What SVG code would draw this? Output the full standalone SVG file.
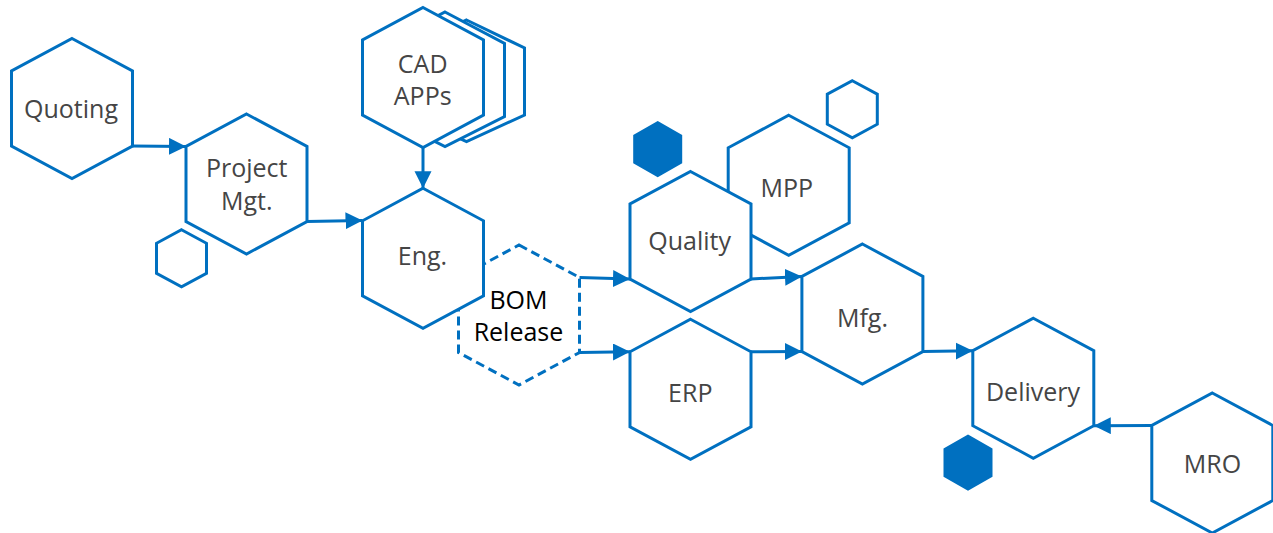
<svg xmlns="http://www.w3.org/2000/svg" xmlns:xlink="http://www.w3.org/1999/xlink" width="1273" height="533" viewBox="0 0 1273 533">
<style>
.hex{fill:#ffffff;stroke:#0070C0;stroke-width:3;stroke-linejoin:miter}
.dash{fill:#ffffff;stroke:#0070C0;stroke-width:3;stroke-dasharray:9 5}
.sm{fill:none;stroke:#0070C0;stroke-width:3}
.smf{fill:#0070C0;stroke:#0070C0;stroke-width:2}
.lbl{font-family:"Open Sans","Noto Sans","DejaVu Sans",sans-serif;font-size:25px;font-weight:400;fill:#454545;text-anchor:middle}
.blk{fill:#000000}
.conn{fill:none;stroke:#0070C0;stroke-width:3}
</style>
<defs>
<polygon id="hx" points="0,-70 60.5,-37.5 60.5,37.5 0,70 -60.5,37.5 -60.5,-37.5"/>
<polygon id="sx" points="0,-28.5 25,-15 25,15 0,28.5 -25,15 -25,-15"/>
<polygon id="sxf" points="0,-27 23.5,-13.5 23.5,13.5 0,27 -23.5,13.5 -23.5,-13.5"/>
<marker id="ah" markerUnits="userSpaceOnUse" markerWidth="18" markerHeight="18" refX="17" refY="8.5" orient="auto">
<path d="M0,0 L17,8.5 L0,17 Z" fill="#0070C0"/>
</marker>
</defs>

<g id="deco">
<use xlink:href="#sx" class="sm" x="181.5" y="258.3"/>
<use xlink:href="#sxf" class="smf" x="657.7" y="149.2"/>
<use xlink:href="#sx" class="sm" x="852.3" y="109.2"/>
<use xlink:href="#sxf" class="smf" x="968" y="462.7"/>
</g>

<g id="quoting">
<use xlink:href="#hx" class="hex" x="72" y="108.5"/>
<text class="lbl" x="71" y="118.3">Quoting</text>
</g>

<g id="project-mgt">
<use xlink:href="#hx" class="hex" x="246.5" y="184"/>
<text class="lbl" x="246.7" y="177.3">Project</text>
<text class="lbl" x="246.7" y="210">Mgt.</text>
</g>

<g id="cad-apps">
<polygon class="hex" points="466.5,20 524.5,48 524.5,115 466.5,141.5 408.5,115 408.5,48"/>
<polygon class="hex" points="445,12 504.5,43.5 504.5,116.5 445,146.5 385.5,116.5 385.5,43.5"/>
<use xlink:href="#hx" class="hex" x="423" y="77.5"/>
<text class="lbl" x="422.7" y="73.3">CAD</text>
<text class="lbl" x="422.7" y="105">APPs</text>
</g>

<g id="bom-release">
<use xlink:href="#hx" class="dash" x="519" y="315"/>
</g>

<g id="eng">
<use xlink:href="#hx" class="hex" x="423" y="258.3"/>
<text class="lbl" x="422.5" y="265">Eng.</text>
</g>

<g id="bom-release-label">
<text class="lbl blk" x="518.5" y="309">BOM</text>
<text class="lbl blk" x="518.5" y="340.7">Release</text>
</g>

<g id="mpp">
<use xlink:href="#hx" class="hex" x="788.7" y="185.3"/>
<text class="lbl" x="786.7" y="197.3">MPP</text>
</g>

<g id="quality">
<use xlink:href="#hx" class="hex" x="690.5" y="241.5"/>
<text class="lbl" x="689.7" y="250">Quality</text>
</g>

<g id="erp">
<use xlink:href="#hx" class="hex" x="690.5" y="389.3"/>
<text class="lbl" x="690.3" y="401.7">ERP</text>
</g>

<g id="mfg">
<use xlink:href="#hx" class="hex" x="862.4" y="314"/>
<text class="lbl" x="862.5" y="326.7">Mfg.</text>
</g>

<g id="delivery">
<use xlink:href="#hx" class="hex" x="1033.3" y="388.2"/>
<text class="lbl" x="1033" y="400.7">Delivery</text>
</g>

<g id="mro">
<use xlink:href="#hx" class="hex" x="1212.3" y="463"/>
<text class="lbl" x="1212.5" y="472.7">MRO</text>
</g>

<g id="connectors">
<path class="conn" d="M132.5,146 L186,146.5" marker-end="url(#ah)"/>
<path class="conn" d="M307,221.5 L362.5,220.5" marker-end="url(#ah)"/>
<path class="conn" d="M423,148 L423,188.3" marker-end="url(#ah)"/>
<path class="conn" d="M579.5,277.5 L630,279" marker-end="url(#ah)"/>
<path class="conn" d="M579.5,352.5 L630,351.8" marker-end="url(#ah)"/>
<path class="conn" d="M751,279 L802,276.5" marker-end="url(#ah)"/>
<path class="conn" d="M751,351.8 L802,351.5" marker-end="url(#ah)"/>
<path class="conn" d="M923,351.5 L972.8,350.7" marker-end="url(#ah)"/>
<path class="conn" d="M1151.8,425.5 L1093.8,425.7" marker-end="url(#ah)"/>
</g>
</svg>
